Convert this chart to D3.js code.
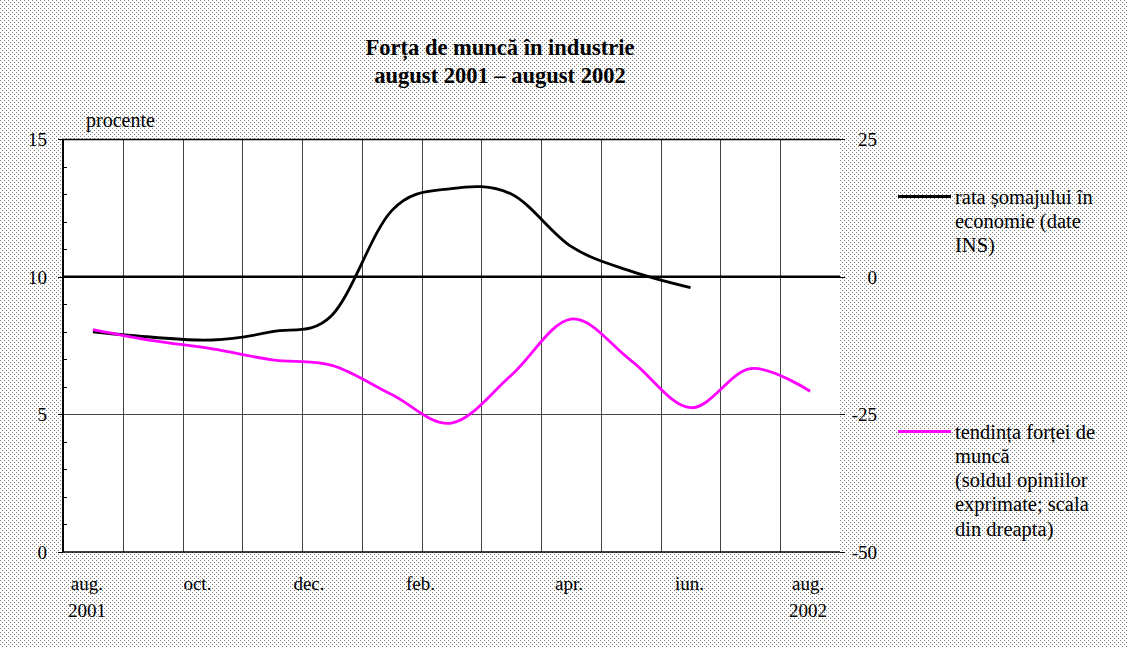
<!DOCTYPE html>
<html>
<head>
<meta charset="utf-8">
<script src="https://cdn.jsdelivr.net/npm/d3@7/dist/d3.min.js"></script>
<style>
  html, body { margin: 0; padding: 0; background: #fff; }
  svg text { font-family: "Liberation Serif", "Times New Roman", serif; fill: #000; }
</style>
</head>
<body>
<script>
// ---------- data ----------
const months = ["aug01", "sep01", "oct01", "nov01", "dec01", "jan02", "feb02",
                "mar02", "apr02", "may02", "jun02", "jul02", "aug02"];
const unemploymentRate = [8.0, 7.8, 7.7, 8.0, 8.6, 12.4, 13.2, 13.0, 11.1, 10.2, 9.6, null, null];
const labourTrend = [-9.6, -11.6, -13.1, -15.1, -16.1, -21.4, -26.6, -17.9, -7.7, -15.2, -23.8, -16.7, -20.8];
const tickMonths = ["aug01", "oct01", "dec01", "feb02", "apr02", "jun02", "aug02"];
const tickLabels = [["aug.", "2001"], ["oct."], ["dec."], ["feb."], ["apr."], ["iun."], ["aug.", "2002"]];
const leftTicks = [0, 5, 10, 15];
const rightTicks = [-50, -25, 0, 25];
const titleLines = ["Forța de muncă în industrie", "august 2001 – august 2002"];
const legend1 = ["rata șomajului în", "economie (date", "INS)"];
const legend2 = ["tendința forței de", "muncă", "(soldul opiniilor", "exprimate; scala", "din dreapta)"];

// ---------- layout ----------
const W = 1127, H = 648;
const plot = { left: 63, right: 840, top: 139, bottom: 552 };
const labelNudge = [-6, -15, -23, -31, -2, -1, -2];

const svg = d3.select("body").append("svg").attr("width", W).attr("height", H);

const defs = svg.append("defs");
const pat = defs.append("pattern").attr("id", "dots").attr("patternUnits", "userSpaceOnUse")
  .attr("width", 4).attr("height", 4);
pat.append("rect").attr("width", 4).attr("height", 4).attr("fill", "#ffffff");
pat.append("rect").attr("x", 0).attr("y", 0).attr("width", 1).attr("height", 1).attr("fill", "#7a7a7a");
pat.append("rect").attr("x", 2).attr("y", 2).attr("width", 1).attr("height", 1).attr("fill", "#7a7a7a");

svg.append("rect").attr("width", W).attr("height", H).attr("fill", "url(#dots)");

const x = d3.scaleBand().domain(months).range([plot.left, plot.right]).padding(0);
const yL = d3.scaleLinear().domain([0, 15]).range([plot.bottom, plot.top]);
const yR = d3.scaleLinear().domain([-50, 25]).range([plot.bottom, plot.top]);
const cx = m => x(m) + x.bandwidth() / 2;

// plot area
svg.append("rect").attr("x", plot.left).attr("y", plot.top)
  .attr("width", plot.right - plot.left).attr("height", plot.bottom - plot.top).attr("fill", "#fff");

// vertical gridlines at band boundaries
svg.append("g").selectAll("line").data(months.slice(1)).join("line")
  .attr("x1", d => Math.round(x(d)) + 0.5).attr("x2", d => Math.round(x(d)) + 0.5)
  .attr("y1", plot.top).attr("y2", plot.bottom)
  .attr("stroke", "#444").attr("stroke-width", 1);

// horizontal gridline(s)
svg.append("g").selectAll("line").data(leftTicks.filter(v => v > 0 && v < 15)).join("line")
  .attr("x1", plot.left).attr("x2", plot.right)
  .attr("y1", d => Math.round(yL(d)) + 0.5).attr("y2", d => Math.round(yL(d)) + 0.5)
  .attr("stroke", "#444").attr("stroke-width", 1);

// zero line of right axis
svg.append("line").attr("x1", plot.left).attr("x2", plot.right)
  .attr("y1", yR(0)).attr("y2", yR(0)).attr("stroke", "#000").attr("stroke-width", 2.5);

// frame
svg.append("line").attr("x1", plot.left).attr("x2", plot.right).attr("y1", plot.top + 0.5).attr("y2", plot.top + 0.5)
  .attr("stroke", "#000").attr("stroke-width", 1.5);
svg.append("line").attr("x1", plot.left).attr("x2", plot.right).attr("y1", plot.bottom).attr("y2", plot.bottom)
  .attr("stroke", "#000").attr("stroke-width", 1.5);

// left axis
const gL = svg.append("g");
gL.append("line").attr("x1", plot.left).attr("x2", plot.left).attr("y1", plot.top).attr("y2", plot.bottom)
  .attr("stroke", "#000").attr("stroke-width", 2);
const minor = d3.range(1, 15).filter(v => !leftTicks.includes(v));
gL.selectAll("line.minor").data(minor).join("line").attr("class", "minor")
  .attr("x1", plot.left).attr("x2", plot.left + 4)
  .attr("y1", d => Math.round(yL(d)) + 0.5).attr("y2", d => Math.round(yL(d)) + 0.5)
  .attr("stroke", "#000").attr("stroke-width", 1);
gL.selectAll("line.major").data(leftTicks).join("line").attr("class", "major")
  .attr("x1", plot.left - 5).attr("x2", plot.left)
  .attr("y1", d => Math.round(yL(d)) + 0.5).attr("y2", d => Math.round(yL(d)) + 0.5)
  .attr("stroke", "#000").attr("stroke-width", 1);
gL.selectAll("text").data(leftTicks).join("text")
  .attr("x", 47).attr("y", d => yL(d) + 7).attr("text-anchor", "end")
  .attr("font-size", 19).text(d => d);

// right axis
const gR = svg.append("g");
gR.append("line").attr("x1", plot.right).attr("x2", plot.right).attr("y1", plot.top).attr("y2", plot.bottom)
  .attr("stroke", "#000").attr("stroke-width", 1.5);
gR.selectAll("line").data(rightTicks).join("line")
  .attr("x1", plot.right).attr("x2", plot.right + 5)
  .attr("y1", d => Math.round(yR(d)) + 0.5).attr("y2", d => Math.round(yR(d)) + 0.5)
  .attr("stroke", "#000").attr("stroke-width", 1);
gR.selectAll("text").data(rightTicks).join("text")
  .attr("x", 877).attr("y", d => yR(d) + 7).attr("text-anchor", "end")
  .attr("font-size", 19).text(d => d);

// x labels
const gX = svg.append("g");
tickMonths.forEach((m, i) => {
  const t = gX.append("text").attr("text-anchor", "middle").attr("font-size", 19)
    .attr("x", cx(m) + labelNudge[i]).attr("y", 590);
  tickLabels[i].forEach((s, j) => {
    t.append("tspan").attr("x", cx(m) + labelNudge[i]).attr("dy", j === 0 ? 0 : 26.5).text(s);
  });
});

// "procente"
svg.append("text").attr("x", 86).attr("y", 127).attr("font-size", 20).text("procente");

// series
const pts1 = months.map((m, i) => [cx(m), unemploymentRate[i]]).filter(d => d[1] != null);
const line1 = d3.line().x(d => d[0]).y(d => yL(d[1])).curve(d3.curveCardinal.tension(0));
svg.append("path").attr("d", line1(pts1)).attr("fill", "none")
  .attr("stroke", "#000").attr("stroke-width", 2.8).attr("stroke-linejoin", "round");

const pts2 = months.map((m, i) => [cx(m), labourTrend[i]]);
const line2 = d3.line().x(d => d[0]).y(d => yR(d[1])).curve(d3.curveCardinal.tension(0));
svg.append("path").attr("d", line2(pts2)).attr("fill", "none")
  .attr("stroke", "#ff00ff").attr("stroke-width", 2.8).attr("stroke-linejoin", "round");

// title
svg.append("g").selectAll("text").data(titleLines).join("text")
  .attr("x", 500).attr("y", (d, i) => 55 + i * 28).attr("text-anchor", "middle")
  .attr("font-size", 22.5).attr("font-weight", "bold").text(d => d);

// legend
function legend(y0, color, lines) {
  svg.append("line").attr("x1", 898).attr("x2", 951).attr("y1", y0).attr("y2", y0)
    .attr("stroke", color).attr("stroke-width", 2.8);
  svg.append("g").selectAll("text").data(lines).join("text")
    .attr("x", 955).attr("y", (d, i) => y0 + 7 + i * 24.3).attr("font-size", 20.5).text(d => d);
}
legend(196.5, "#000", legend1);
legend(431.5, "#ff00ff", legend2);
</script>
</body>
</html>
